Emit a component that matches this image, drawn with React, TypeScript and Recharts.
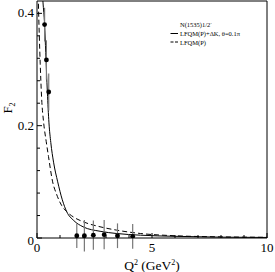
import { ComposedChart, Line, Scatter, XAxis, YAxis, ErrorBar, Customized } from 'recharts'

// curves
const solidQ2 = [0.2, 0.26, 0.33, 0.38, 0.45, 0.52, 0.6, 0.72, 0.9, 1.1, 1.29, 1.6, 2.0, 2.74, 3.46, 4.5, 6, 8, 10]
const solidF2 = [0.46, 0.42, 0.38, 0.33, 0.26, 0.205, 0.17, 0.135, 0.1, 0.068, 0.047, 0.031, 0.02, 0.012, 0.008, 0.005, 0.003, 0.0015, 0.001]

const dashedQ2 = [0.04, 0.06, 0.1, 0.14, 0.2, 0.29, 0.4, 0.5, 0.68, 0.85, 1.07, 1.29, 1.6, 2.0, 2.74, 3.46, 4.5, 6, 8, 10]
const dashedF2 = [0.46, 0.42, 0.36, 0.31, 0.25, 0.205, 0.172, 0.145, 0.1, 0.078, 0.058, 0.047, 0.037, 0.029, 0.02, 0.014, 0.008, 0.004, 0.002, 0.0012]

// experimental points
const expQ2 = [0.33, 0.41, 0.51, 1.73, 2.06, 2.45, 2.92, 3.5, 4.16]
const expF2 = [0.38, 0.317, 0.26, 0.004, 0.004, 0.005, 0.006, 0.004, 0.003]
const expErr = [0.03, 0.035, 0.033, 0.022, 0.028, 0.026, 0.026, 0.022, 0.022]

const xTicks = [0, 1, 2, 3, 4, 5, 6, 7, 8, 9, 10]
const yTicks = [0, 0.04, 0.08, 0.12, 0.16, 0.2, 0.24, 0.28, 0.32, 0.36, 0.4]
const xLabels = [0, 5, 10]
const yLabels = [0, 0.2, 0.4]

const FONT = '"Liberation Serif", "Times New Roman", serif'

const solidData = solidQ2.map((q2, i) => ({ q2, f2: solidF2[i] }))
const dashedData = dashedQ2.map((q2, i) => ({ q2, f2: dashedF2[i] }))
const expData = expQ2.map((q2, i) => ({ q2, f2: expF2[i], err: expErr[i] }))

const isMajorX = (v: number) => xLabels.includes(v)
const isMajorY = (v: number) => yLabels.some(l => Math.abs(l - v) < 1e-9)

const BottomTick = (p: any) => {
  const v = p.payload.value
  const len = isMajorX(v) ? 5 : 3
  return (
    <g>
      <line x1={p.x} y1={p.y} x2={p.x} y2={p.y - len} stroke="#000" />
      {isMajorX(v) && (
        <text x={p.x} y={p.y + 14} textAnchor="middle" fontSize={13} fontFamily={FONT} fill="#000">{v}</text>
      )}
    </g>
  )
}

const TopTick = (p: any) => {
  const len = isMajorX(p.payload.value) ? 5 : 3
  return <line x1={p.x} y1={p.y} x2={p.x} y2={p.y + len} stroke="#000" />
}

const LeftTick = (p: any) => {
  const v = p.payload.value
  const len = isMajorY(v) ? 5 : 3
  return (
    <g>
      <line x1={p.x} y1={p.y} x2={p.x + len} y2={p.y} stroke="#000" />
      {isMajorY(v) && (
        <text x={p.x - 3} y={p.y + (v === 0 ? 7 : 4)} textAnchor="end" fontSize={13} fontFamily={FONT} fill="#000">{v}</text>
      )}
    </g>
  )
}

const RightTick = (p: any) => {
  const len = isMajorY(p.payload.value) ? 5 : 3
  return <line x1={p.x} y1={p.y} x2={p.x - len} y2={p.y} stroke="#000" />
}

const Dot = (p: any) => <circle cx={p.cx} cy={p.cy} r={2.4} fill="#000" />

const Annotations = () => (
  <g fontFamily={FONT} fill="#000">
    <text x={152} y={270} textAnchor="middle" fontSize={13.5}>
      Q<tspan dy={-5} fontSize={8}>2</tspan><tspan dy={5}> (GeV</tspan><tspan dy={-5} fontSize={8}>2</tspan><tspan dy={5}>)</tspan>
    </text>
    <text transform="translate(12,108) rotate(-90)" textAnchor="middle" fontSize={13}>
      F<tspan dy={3} fontSize={8}>2</tspan>
    </text>
    <text x={180} y={27} fontSize={6.5}>N(1535)1/2<tspan dy={-2.5} fontSize={4.5}>-</tspan></text>
    <line x1={170.5} y1={33.5} x2={178} y2={33.5} stroke="#000" />
    <text x={180} y={36} fontSize={6.5}>LFQM(P)+ΔK, θ=0.1π</text>
    <line x1={170.5} y1={42} x2={178} y2={42} stroke="#000" strokeDasharray="3 1.5" />
    <text x={180} y={44.5} fontSize={6.5}>LFQM(P)</text>
  </g>
)

export default function App() {
  return (
    <div style={{ position: 'absolute', left: 0, top: 0 }}>
      <ComposedChart width={275} height={272} margin={{ top: 0, right: 7, bottom: 0, left: 7 }}>
        <XAxis xAxisId="b" dataKey="q2" type="number" domain={[0, 10]} ticks={xTicks} interval={0}
          height={34} tickSize={0} tickMargin={0} tick={BottomTick} stroke="#000" allowDataOverflow />
        <XAxis xAxisId="t" orientation="top" type="number" domain={[0, 10]} ticks={xTicks} interval={0}
          height={1} tickSize={0} tickMargin={0} tick={TopTick} stroke="#000" />
        <YAxis yAxisId="l" dataKey="f2" type="number" domain={[0, 0.422]} ticks={yTicks} interval={0}
          width={30} tickSize={0} tickMargin={0} tick={LeftTick} stroke="#000" allowDataOverflow />
        <YAxis yAxisId="r" orientation="right" type="number" domain={[0, 0.422]} ticks={yTicks} interval={0}
          width={1} tickSize={0} tickMargin={0} tick={RightTick} stroke="#000" />
        <Line xAxisId="b" yAxisId="l" data={dashedData} dataKey="f2" type="monotone" stroke="#000"
          strokeWidth={1} strokeDasharray="5 3" dot={false} isAnimationActive={false} />
        <Line xAxisId="b" yAxisId="l" data={solidData} dataKey="f2" type="monotone" stroke="#000"
          strokeWidth={1} dot={false} isAnimationActive={false} />
        <Scatter xAxisId="b" yAxisId="l" data={expData} dataKey="f2" shape={Dot} isAnimationActive={false}>
          <ErrorBar dataKey="err" direction="y" width={0} stroke="#777" strokeWidth={1.2} />
        </Scatter>
        <Customized component={<Annotations />} />
      </ComposedChart>
    </div>
  )
}
